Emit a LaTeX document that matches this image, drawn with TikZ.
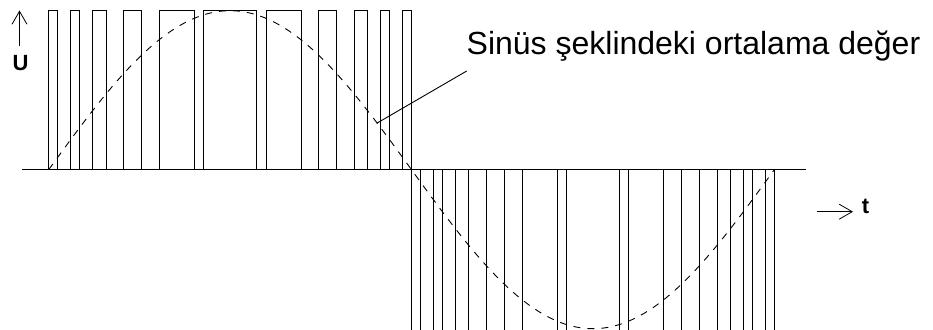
\documentclass[tikz,border=0pt]{standalone}
\usepackage{fontspec}
\setmainfont{Liberation Sans}
\usetikzlibrary{arrows.meta}
\begin{document}
\begin{tikzpicture}[x=1pt,y=-1pt,
  wave/.style={line width=0.9pt,black},
  sine/.style={line width=0.9pt,black,dash pattern=on 7pt off 7pt},
  axisarrow/.style={line width=0.8pt,-{Straight Barb[length=13pt,width=15pt,line width=0.8pt]}},
  axislabel/.style={font=\fontsize{22}{26}\selectfont\bfseries,inner sep=0pt},
  caption/.style={font=\fontsize{32}{38}\selectfont,inner sep=0pt,anchor=base west}]
\useasboundingbox (0,0) rectangle (933,329);
% baseline
\coordinate (zl) at (22,169.7);
\coordinate (zr) at (806,169.7);
\draw[wave] (zl) -- (zr);
% pulses
\def\xo{48.7}
\def\hp{362.8}
\foreach \a/\b in {0/8.7, 21.7/30.7, 44/57.3, 75/92.7, 110.5/145.5, 155/207.8, 217.3/252.3, 270.1/287.8, 305.5/318.8, 332.1/341.1, 354.1/362.8}{
  \draw[wave] ({\xo+\a},169.7) -- ({\xo+\a},10.7) -- ({\xo+\b},10.7) -- ({\xo+\b},169.7);
  \draw[wave] ({\xo+\hp+\a},169.7) -- ({\xo+\hp+\a},330);
  \draw[wave] ({\xo+\hp+\b},169.7) -- ({\xo+\hp+\b},330);
}
% sine average
\draw[sine] plot[domain=0:360,samples=150,smooth] ({\xo+\x/180*\hp},{169.7-159*sin(\x)});
% axes
\coordinate (ua) at (19.5,46);
\coordinate (ub) at (19.5,10.5);
\draw[axisarrow] (ua) -- (ub);
\node[axislabel] (U) at (20.5,63.5) {U};
\coordinate (ta) at (816.7,211.7);
\coordinate (tb) at (853,211.7);
\draw[axisarrow] (ta) -- (tb);
\node[axislabel] (T) at (865.5,206.5) {t};
% caption
\node[caption] (cap) at (466.5,55) {Sinüs şeklindeki ortalama değer};
\coordinate (la) at (466.7,71);
\coordinate (lb) at (376.7,123.3);
\draw[line width=0.9pt] (la) -- (lb);
\end{tikzpicture}
\end{document}
